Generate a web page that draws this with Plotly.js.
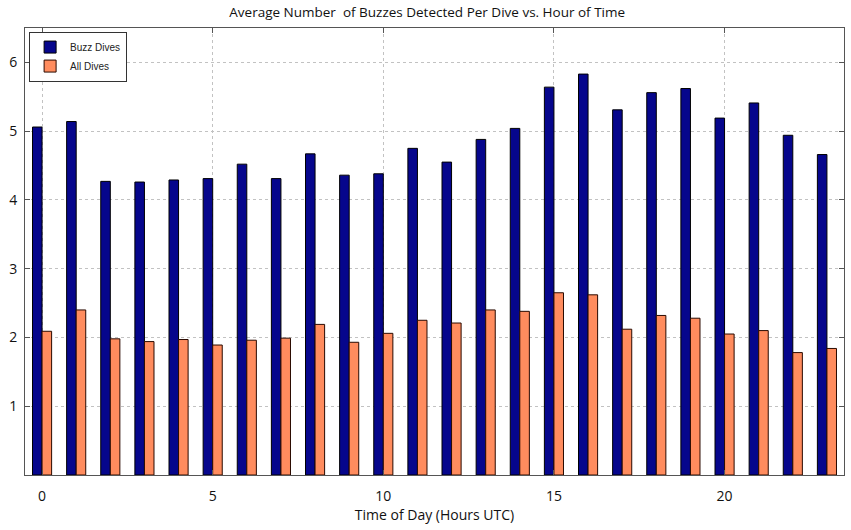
<!DOCTYPE html>
<html>
<head>
<meta charset="utf-8">
<script src="https://cdn.plot.ly/plotly-3.0.1.min.js"></script>
<style>
  html, body { margin: 0; padding: 0; background: white; }
  #chart { width: 851px; height: 530px; }
</style>
</head>
<body>
<div id="chart"></div>
<script>
// hour of day (UTC)
var hours = [0, 1, 2, 3, 4, 5, 6, 7, 8, 9, 10, 11, 12, 13, 14, 15, 16, 17, 18, 19, 20, 21, 22, 23];

// average buzzes per dive
var buzzDives = [5.06, 5.14, 4.27, 4.26, 4.29, 4.31, 4.52, 4.31, 4.67, 4.36, 4.38, 4.75,
                 4.55, 4.88, 5.04, 5.64, 5.83, 5.31, 5.56, 5.62, 5.19, 5.41, 4.94, 4.66];
var allDives = [2.09, 2.40, 1.98, 1.94, 1.97, 1.89, 1.96, 1.99, 2.19, 1.93, 2.06, 2.25,
                2.21, 2.40, 2.38, 2.65, 2.62, 2.12, 2.32, 2.28, 2.05, 2.10, 1.78, 1.84];

var xTicks = [0, 5, 10, 15, 20];
var yTicks = [1, 2, 3, 4, 5, 6];

var data = [
  {
    type: "bar",
    name: "Buzz Dives",
    x: hours,
    y: buzzDives,
    marker: { color: "#06068c", line: { color: "#000000", width: 1 } },
  },
  {
    type: "bar",
    name: "All Dives",
    x: hours,
    y: allDives,
    marker: { color: "#ff8c5e", line: { color: "#2a0a00", width: 1 } },
  },
];

var axisCommon = {
  showline: true,
  linecolor: "#555555",
  linewidth: 1,
  mirror: "ticks",
  ticks: "inside",
  ticklen: 5,
  tickcolor: "#555555",
  showgrid: true,
  gridcolor: "#c2c2c2",
  griddash: "dot",
  gridwidth: 1,
  zeroline: false,
  tickfont: { family: "Open Sans", size: 14, color: "#111111" },
};

var layout = {
  width: 851,
  height: 530,
  margin: { t: 28, r: 7, l: 25, b: 55 },
  paper_bgcolor: "white",
  plot_bgcolor: "white",
  barmode: "group",
  bargap: 0.44,
  bargroupgap: 0.0,
  showlegend: true,
  font: { family: "Open Sans", color: "#111111" },
  title: {
    text: "Average Number  of Buzzes Detected Per Dive vs. Hour of Time",
    font: { family: "Open Sans", size: 13.5, color: "#111111" },
    x: 0.502,
    xanchor: "center",
    y: 0.977,
    yanchor: "middle",
  },
  legend: {
    x: 0.005,
    y: 0.992,
    xanchor: "left",
    yanchor: "top",
    bgcolor: "white",
    bordercolor: "#333333",
    borderwidth: 1,
    font: { family: "Liberation Sans", size: 10, color: "#222222" },
    tracegroupgap: 0,
    itemwidth: 30,
  },
  xaxis: Object.assign({}, axisCommon, {
    range: [-0.5, 23.5],
    tickmode: "array",
    tickvals: xTicks,
    ticktext: xTicks.map(String),
    ticklabelstandoff: 8,
    title: {
      text: "Time of Day (Hours UTC)",
      font: { family: "Open Sans", size: 14, color: "#111111" },
      standoff: 4,
    },
  }),
  yaxis: Object.assign({}, axisCommon, {
    range: [0, 6.5],
    tickmode: "array",
    tickvals: yTicks,
    ticktext: yTicks.map(String),
    ticklabelstandoff: 4,
  }),
};

Plotly.newPlot("chart", data, layout, { displayModeBar: false, staticPlot: true });
</script>
</body>
</html>
